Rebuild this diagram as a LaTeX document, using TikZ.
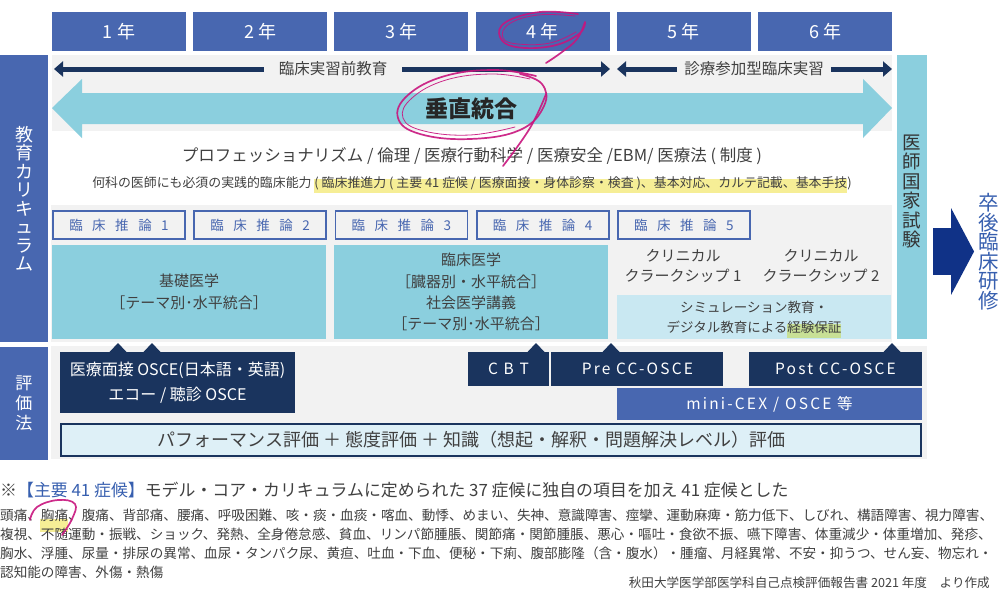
\documentclass[tikz,border=0pt]{standalone}
\usepackage{fontspec}
\setmainfont{Noto Sans CJK JP}
\newfontfamily\trackfont{Noto Sans CJK JP}[LetterSpace=14.0]
\usepackage{tikz}
\usetikzlibrary{arrows.meta}
\usetikzlibrary{positioning}

\definecolor{yearblue}{RGB}{72,103,176}
\definecolor{navyblue}{RGB}{26,52,94}
\definecolor{skyblue}{RGB}{139,207,222}
\definecolor{palesky}{RGB}{201,232,242}
\definecolor{paleperf}{RGB}{222,240,247}
\definecolor{graybg}{RGB}{242,242,242}
\definecolor{textgray}{RGB}{64,64,64}
\definecolor{markyellow}{RGB}{246,238,150}
\definecolor{markgreen}{RGB}{200,224,150}
\definecolor{penmagenta}{RGB}{200,20,125}
\definecolor{deepblue}{RGB}{16,50,135}
\definecolor{noteblue}{RGB}{55,95,175}

\newcommand{\hilite}[2]{\setbox0\hbox{#2}\rlap{\smash{\color{#1}\rule[-0.45em]{\wd0}{1.05em}}}\box0}
\newcommand{\tightstack}{\lineskiplimit=-10pt\relax}

\tikzset{
  yearbox/.style={fill=yearblue, text=white, minimum width=134pt, minimum height=39pt, inner sep=0pt, font=\fontsize{18pt}{20pt}\selectfont},
  sidebox/.style={fill=yearblue, text=white, minimum width=48pt, inner sep=0pt, align=center},
  phaselabel/.style={text=textgray, inner ysep=0pt, font=\fontsize{15.5pt}{18pt}\selectfont},
  navyline/.style={draw=navyblue, line width=5pt, ->},
  reasonbox/.style={draw=yearblue, line width=1.8pt, fill=graybg, text=yearblue, minimum width=132pt, minimum height=28pt, inner sep=0pt, font=\fontsize{13.5pt}{15pt}\selectfont},
  areabox/.style={fill=skyblue, text=textgray, minimum width=274pt, minimum height=94pt, inner sep=0pt, align=center},
  plaintext/.style={text=textgray, inner sep=0pt, align=center},
  evalbox/.style={fill=navyblue, text=white, minimum height=34pt, inner sep=0pt, font=\fontsize{15.5pt}{18pt}\trackfont},
  listline/.style={text=textgray, inner sep=0pt, anchor=base west, font=\fontsize{13.6pt}{16pt}\selectfont},
  penstroke/.style={draw=penmagenta, line width=1.7pt, line cap=round, line join=round, opacity=0.9},
}

\begin{document}
\begin{tikzpicture}[x=1pt, y=-1pt, node distance=141.2pt, >={Triangle[length=9pt,width=15pt]}]
\useasboundingbox (0,0) rectangle (1000,600);

\fill[graybg] (52,55) rectangle (892,131);
\fill[graybg] (51,205) rectangle (892,342);
\fill[graybg] (51,346) rectangle (927,459);

\node[name=side_curr, sidebox, minimum height=287pt, font={\fontsize{18pt}{18.5pt}\selectfont\tightstack}] at (24,198.5) {教\\育\\カ\\リ\\キ\\ュ\\ラ\\ム};
\node[name=side_eval, sidebox, minimum height=113pt, font=\fontsize{17pt}{20pt}\selectfont] at (24,403.5) {評\\価\\法};

\node[name=year_1, yearbox] at (119,31.5) {1 年};
\node[name=year_2, yearbox, right of=year_1] {2 年};
\node[name=year_3, yearbox, right of=year_2] {3 年};
\node[name=year_4, yearbox, right of=year_3] {4 年};
\node[name=year_5, yearbox, right of=year_4] {5 年};
\node[name=year_6, yearbox, right of=year_5] {6 年};

\node[name=pre_label, phaselabel, inner xsep=15pt] at (333,69) {臨床実習前教育};
\coordinate (pre_start) at (54,69);
\coordinate (pre_end) at (610,69);
\draw[navyline] (pre_label) -- (pre_start);
\draw[navyline] (pre_label) -- (pre_end);
\node[name=cc_label, phaselabel, inner xsep=7pt] at (754,69) {診療参加型臨床実習};
\coordinate (cc_start) at (617,69);
\coordinate (cc_end) at (892,69);
\draw[navyline] (cc_label) -- (cc_start);
\draw[navyline] (cc_label) -- (cc_end);

\fill[skyblue] (52,108) -- (82,79) -- (82,93) -- (863,93) -- (863,79) -- (892,108) -- (863,138) -- (863,124) -- (82,124) -- (82,138) -- cycle;
\node[name=vertical_int, text=black!85, font=\fontsize{23pt}{25pt}\selectfont\bfseries] at (471,109) {垂直統合};

\node[name=pro_line, plaintext, font=\fontsize{16.5pt}{18pt}\selectfont] at (472,156) {プロフェッショナリズム / 倫理 / 医療行動科学 / 医療安全 /EBM/ 医療法 ( 制度 )};
\node[name=core_line, plaintext, anchor=base, font=\fontsize{12.9pt}{15pt}\selectfont] at (472,187) {何科の医師にも必須の実践的臨床能力 \hilite{markyellow}{( 臨床推進力 ( 主要 41 症候 / 医療面接・身体診察・検査 )、基本対応、カルテ記載、基本手技} )};

\node[name=reason_1, reasonbox] at (119,225) {臨\hspace{9.5pt}床\hspace{9.5pt}推\hspace{9.5pt}論\hspace{9.5pt}1};
\node[name=reason_2, reasonbox, right of=reason_1] {臨\hspace{9.5pt}床\hspace{9.5pt}推\hspace{9.5pt}論\hspace{9.5pt}2};
\node[name=reason_3, reasonbox, right of=reason_2] {臨\hspace{9.5pt}床\hspace{9.5pt}推\hspace{9.5pt}論\hspace{9.5pt}3};
\node[name=reason_4, reasonbox, right of=reason_3] {臨\hspace{9.5pt}床\hspace{9.5pt}推\hspace{9.5pt}論\hspace{9.5pt}4};
\node[name=reason_5, reasonbox, right of=reason_4] {臨\hspace{9.5pt}床\hspace{9.5pt}推\hspace{9.5pt}論\hspace{9.5pt}5};

\node[name=basic_box, areabox, font=\fontsize{15pt}{22pt}\selectfont] at (189,292) {基礎医学\\［テーマ別･水平統合］};
\node[name=clinical_box, areabox, font=\fontsize{15pt}{21.3pt}\selectfont] at (471,292) {臨床医学\\［臓器別・水平統合］\\社会医学講義\\［テーマ別･水平統合］};
\node[name=cc_text_1, plaintext, font=\fontsize{15pt}{20.5pt}\selectfont] at (683,266) {クリニカル\\クラークシップ 1};
\node[name=cc_text_2, plaintext, font=\fontsize{15pt}{20.5pt}\selectfont] at (821,266) {クリニカル\\クラークシップ 2};
\node[name=sim_box, fill=palesky, text=textgray, minimum width=274pt, minimum height=44pt, inner sep=0pt, align=center, font=\fontsize{13.5pt}{20pt}\selectfont] at (754,317) {シミュレーション教育・\\デジタル教育による\hilite{markgreen}{経験保証}};

\node[name=exam_box, fill=skyblue, minimum width=30pt, minimum height=284pt, inner sep=0pt] at (912,197) {};
\node[name=exam_label, plaintext, text=black!80, font={\fontsize{18.5pt}{19.5pt}\selectfont\tightstack}] at (912,191.5) {医\\師\\国\\家\\試\\験};
\node[name=residency, plaintext, text=noteblue, font={\fontsize{20.5pt}{19.5pt}\selectfont\tightstack}] at (989,251.5) {卒\\後\\臨\\床\\研\\修};
\draw[deepblue, line width=47pt, -{Triangle[length=23pt,width=86pt]}, shorten <=6pt, shorten >=4.5pt] (exam_box.east |- residency.west) -- (residency.west);

\fill[navyblue] (109.5,352) -- (118,343) -- (126.5,352) -- cycle;
\fill[navyblue] (143.5,352) -- (152,343) -- (160.5,352) -- cycle;
\fill[navyblue] (527.5,352) -- (536,343) -- (544.5,352) -- cycle;
\fill[navyblue] (602.5,352) -- (611,343) -- (619.5,352) -- cycle;
\fill[navyblue] (883.5,352) -- (892,343) -- (900.5,352) -- cycle;
\node[name=interview_box, evalbox, minimum width=235pt, minimum height=61pt, align=center, font=\fontsize{16pt}{24.5pt}\selectfont] at (177.5,382.5) {医療面接 OSCE(日本語・英語)\\エコー / 聴診 OSCE};
\node[name=cbt_box, evalbox, minimum width=81pt] at (508.5,369) {C B T};
\node[name=pre_cc_box, evalbox, minimum width=172pt, right=2pt of cbt_box] {Pre CC-OSCE};
\node[name=post_cc_box, evalbox, minimum width=173pt] at (835.5,369) {Post CC-OSCE};
\node[name=minicex_box, fill=yearblue, text=white, minimum width=305pt, minimum height=32pt, inner sep=0pt, font=\fontsize{15.5pt}{18pt}\trackfont] at (769.5,404) {mini-CEX\hspace{6pt}/\hspace{6pt}OSCE 等};
\node[name=perf_box, draw=navyblue, line width=2pt, fill=paleperf, minimum width=860pt, minimum height=32pt, inner sep=0pt] at (491,440) {};
\node[name=perf_text, plaintext, font=\fontsize{18pt}{20pt}\selectfont] at (471.5,439.5) {パフォーマンス評価 ＋ 態度評価 ＋ 知識（想起・解釈・問題解決レベル）評価};

\fill[markyellow] (40,519) rectangle (68,532);
\node[name=note_head, text=textgray, inner sep=0pt, anchor=base west, font=\fontsize{16.9pt}{18pt}\selectfont] at (0,496) {※{\color{noteblue}【主要 41 症候】}モデル・コア・カリキュラムに定められた 37 症候に独自の項目を加え 41 症候とした};
\node[name=list_1, listline] at (0,520) {頭痛、胸痛、腹痛、背部痛、腰痛、呼吸困難、咳・痰・血痰・喀血、動悸、めまい、失神、意識障害、痙攣、運動麻痺・筋力低下、しびれ、構語障害、視力障害、};
\node[name=list_2, listline] at (0,539.2) {複視、不随運動・振戦、ショック、発熱、全身倦怠感、貧血、リンパ節腫脹、関節痛・関節腫脹、悪心・嘔吐・食欲不振、嚥下障害、体重減少・体重増加、発疹、};
\node[name=list_3, listline] at (0,558.4) {胸水、浮腫、尿量・排尿の異常、血尿・タンパク尿、黄疸、吐血・下血、便秘・下痢、腹部膨隆（含・腹水）・腫瘤、月経異常、不安・抑うつ、せん妄、物忘れ・};
\node[name=list_4, listline] at (0,577.6) {認知能の障害、外傷・熱傷};
\node[name=source, text=textgray, inner sep=0pt, anchor=base east, font=\fontsize{12.6pt}{15pt}\selectfont] at (990,587) {秋田大学医学部医学科自己点検評価報告書 2021 年度　より作成};

\draw[penstroke] plot[smooth, tension=0.7] coordinates {(578,14) (540,12) (506,22) (500,37) (516,47) (552,46) (579,34) (585,22) (577,39) (562,52) (546,63)};
\draw[penstroke, line width=0.8pt] plot[smooth, tension=0.7] coordinates {(575,16) (538,15) (509,24) (503,38) (518,44) (550,43) (576,32)};
\draw[penstroke] plot[smooth, tension=0.7] coordinates {(536,76) (495,70) (445,76) (408,95) (398,118) (420,134) (470,139) (520,130) (544,106) (542,84) (520,74)};
\draw[penstroke, line width=0.8pt] plot[smooth, tension=0.7] coordinates {(530,79) (492,74) (446,80) (412,98) (403,118) (424,131) (470,135) (515,127)};
\draw[penstroke] plot[smooth, tension=0.7] coordinates {(546,94) (530,128) (503,166)};
\draw[penstroke] plot[smooth, tension=0.7] coordinates {(30,520) (37,507) (58,500) (75,504) (72,519) (62,535)};
\end{tikzpicture}
\end{document}
